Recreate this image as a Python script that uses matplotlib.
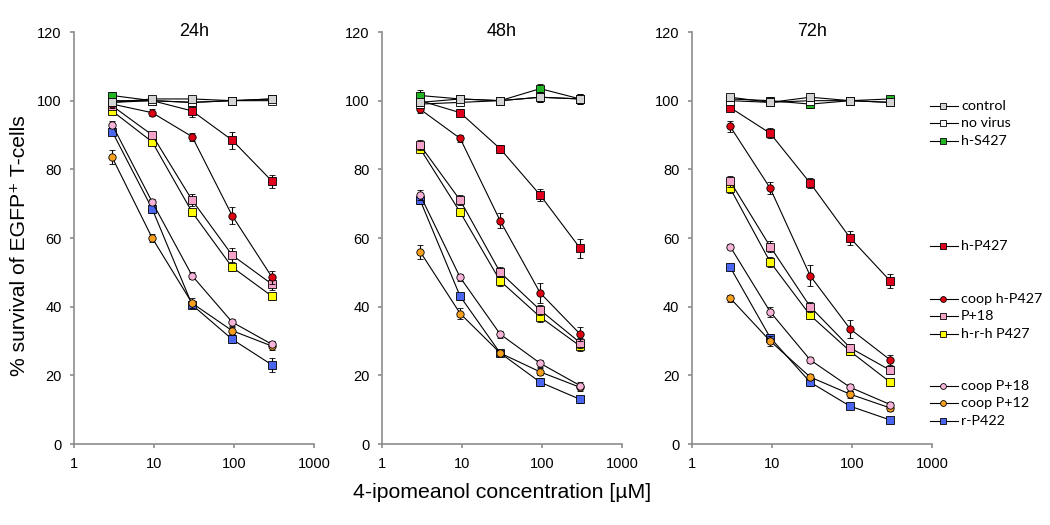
import numpy as np
import matplotlib.pyplot as plt
from matplotlib.lines import Line2D
from matplotlib.ticker import FixedLocator, FixedFormatter, NullLocator

plt.rcParams['font.family'] = ['Liberation Sans', 'DejaVu Sans']

times = ['24h', '48h', '72h']
conc = [3, 9.49, 30, 94.9, 300]
tick_vals = [1, 10, 100, 1000]
tick_labels = ['1', '10', '100', '1000']

labels = ['control', 'no virus', 'h-S427', 'h-P427', 'coop h-P427',
          'P+18', 'h-r-h P427', 'coop P+18', 'coop P+12', 'r-P422']

# % survival, one row per time point (24h, 48h, 72h)
control = [[99.5, 100.5, 100.5, 100, 100.5],
           [99.5, 100.5, 100, 101, 100.5],
           [101, 99.5, 101, 100, 99.5]]
no_virus = [[99.5, 100, 99.5, 100, 100],
            [99, 99.5, 100, 101, 100.5],
            [100, 99.5, 100, 100, 99.5]]
h_s427 = [[101.5, 100, 99.5, 100, 100.5],
          [101.5, 100.5, 100, 103.5, 100.5],
          [100.5, 100, 99, 100, 100.5]]
h_p427 = [[100, 100, 97, 88.5, 76.5],
          [100, 96.5, 86, 72.5, 57],
          [98, 90.5, 76, 60, 47.5]]
coop_h_p427 = [[99, 96.5, 89.5, 66.5, 48.5],
               [97.5, 89, 65, 44, 32],
               [92.5, 74.5, 49, 33.5, 24.5]]
p18 = [[98.5, 90, 71, 55, 46.5],
       [87, 71, 50, 39, 29.5],
       [76.5, 57.5, 40, 28, 21.5]]
hrh_p427 = [[97, 88, 67.5, 51.5, 43],
            [86, 67.5, 47.5, 37, 28.5],
            [74.5, 53, 37.5, 27, 18]]
coop_p18 = [[93, 70.5, 49, 35.5, 29],
            [72.5, 48.5, 32, 23.5, 17],
            [57.5, 38.5, 24.5, 16.5, 11.5]]
coop_p12 = [[83.5, 60, 41, 33, 28.5],
            [56, 38, 26.5, 21, 16.5],
            [42.5, 30, 19.5, 14.5, 10.5]]
r_p422 = [[91, 68.5, 40.5, 30.5, 23],
          [71, 43, 26.5, 18, 13],
          [51.5, 31, 18, 11, 7]]

# error bars
control_err = [[1, 1, 1, 0.5, 1], [1, 1, 1, 1.5, 1.5], [1, 1, 1.2, 1, 1]]
no_virus_err = [[1, 1, 1, 0.5, 1], [1, 1, 1, 1.5, 1.5], [1, 1, 1, 1, 1]]
h_s427_err = [[1, 0.5, 1, 0.5, 1], [1.5, 1, 1, 1.5, 1], [1, 1, 1, 1, 1]]
h_p427_err = [[1, 0.5, 1.8, 2.5, 1.8], [1, 1, 1.2, 1.8, 2.8], [1, 1.5, 1.5, 2, 2]]
coop_h_p427_err = [[1, 1, 1.2, 2.5, 2], [1, 1, 2.2, 3, 2], [1.5, 1.8, 3, 2.5, 1.5]]
p18_err = [[1, 1, 1.8, 2, 1.5], [1.5, 1.5, 1.5, 1.5, 1.5], [1.5, 1.5, 1.5, 1, 1.2]]
hrh_p427_err = [[1, 1, 1, 1, 1], [1, 1, 1.5, 1.5, 1.5], [1.5, 1.5, 1, 1, 1]]
coop_p18_err = [[1, 1, 1, 1, 1], [1.5, 1, 1, 1, 1], [0.8, 1.5, 0.8, 1, 0.8]]
coop_p12_err = [[2, 1.2, 1.5, 1, 1], [2, 1.5, 1, 1, 1], [1, 1.5, 1, 1, 0.8]]
r_p422_err = [[1, 1.2, 1, 1.2, 2], [1, 1, 1, 1.2, 1], [0.8, 1, 1, 0.8, 0.5]]

series = [control, no_virus, h_s427, h_p427, coop_h_p427,
          p18, hrh_p427, coop_p18, coop_p12, r_p422]
errors = [control_err, no_virus_err, h_s427_err, h_p427_err, coop_h_p427_err,
          p18_err, hrh_p427_err, coop_p18_err, coop_p12_err, r_p422_err]
markers = ['s', 's', 's', 's', 'o', 's', 's', 'o', 'o', 's']
colors = ['#d4d4d4', '#ffffff', '#22b422', '#e0001e', '#dd0010',
          '#f4a3c8', '#ffff00', '#f8b4d8', '#f7a020', '#4a66ee']

fig = plt.figure(figsize=(10.5, 5.25), dpi=100)
lefts = [74, 382, 692]
axes = []
for i, t in enumerate(times):
    ax = fig.add_axes([lefts[i] / 1050, 81 / 525, 240 / 1050, 412 / 525])
    axes.append(ax)
    # draw bottom series first so control ends up on top
    for k in reversed(range(len(series))):
        ax.errorbar(conc, series[k][i], yerr=errors[k][i], color='black', lw=0.8,
                    elinewidth=0.8, capsize=2.5, capthick=0.8,
                    marker=markers[k], ms=5.3,
                    mfc=colors[k], mec='black', mew=0.6, zorder=3 + (10 - k) * 0.1)
    ax.set_xscale('log')
    ax.set_xlim(1, 1000)
    ax.set_ylim(0, 120)
    ax.xaxis.set_major_locator(FixedLocator(tick_vals))
    ax.xaxis.set_major_formatter(FixedFormatter(tick_labels))
    ax.xaxis.set_minor_locator(NullLocator())
    ax.set_yticks(np.arange(0, 121, 20))
    for s in ['top', 'right']:
        ax.spines[s].set_visible(False)
    for s in ['left', 'bottom']:
        ax.spines[s].set_color('#8c8c8c')
        ax.spines[s].set_linewidth(1.2)
    ax.tick_params(length=3, width=1.2, color='#8c8c8c', labelsize=10.5, pad=6)
    ax.text(0.5, 1.0, t, transform=ax.transAxes, ha='center', va='center',
            fontsize=13)
    ax.patch.set_visible(False)

fig.text(20 / 1050, 1 - 246 / 525, '% survival of EGFP⁺ T-cells', rotation=90,
         ha='center', va='center', fontsize=15.2)
fig.text(502 / 1050, 1 - 493 / 525, '4-ipomeanol concentration [µM]',
         ha='center', va='center', fontsize=15.3)

# legend, grouped as in the original
leg_y = [106, 123, 141, 246, 299, 316, 334, 386, 403, 421]
for k in range(len(labels)):
    yf = 1 - leg_y[k] / 525
    fig.add_artist(Line2D([930 / 1050, 958 / 1050], [yf, yf], color='black', lw=0.8))
    fig.add_artist(Line2D([943 / 1050], [yf], marker=markers[k], ms=4.2,
                          mfc=colors[k], mec='black', mew=0.6, ls='none'))
    fig.text(961 / 1050, yf, labels[k], ha='left', va='center', fontsize=10.3,
             family=['Lato', 'DejaVu Sans'])

fig.savefig('out.png', dpi=100)
